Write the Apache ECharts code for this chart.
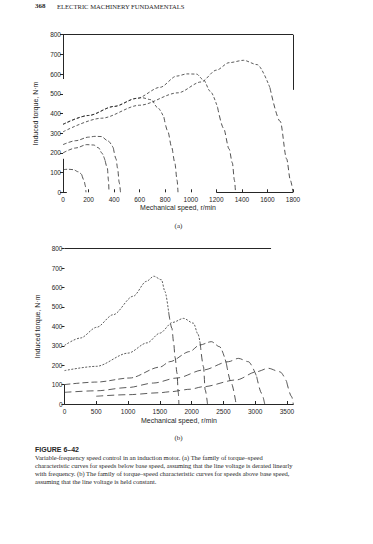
<!DOCTYPE html>
<html><head><meta charset="utf-8">
<script src="https://cdn.jsdelivr.net/npm/echarts@6/dist/echarts.min.js"></script>
<style>html,body{margin:0;padding:0;background:#fff}#c{width:373px;height:544px}</style>
</head><body><div id="c"></div>
<script>
// ---- tick labels ----
const speedTicksA = [0, 200, 400, 600, 800, 1000, 1200, 1400, 1600, 1800];
const speedTicksB = [0, 500, 1000, 1500, 2000, 2500, 3000, 3500];
const torqueTicks = [0, 100, 200, 300, 400, 500, 600, 700, 800];

// ---- (a) below base speed ----
const speedA1 = [0, 300, 600, 900, 1080, 1200, 1300, 1413, 1520, 1620, 1700, 1750, 1780, 1800];
const torqueA1 = [307, 376, 442, 505, 560, 620, 658, 670, 648, 530, 360, 170, 60, 0];
const speedA2 = [0, 200, 400, 577, 760, 890, 970, 1045, 1100, 1152, 1210, 1256, 1300, 1325, 1342, 1350];
const torqueA2 = [345, 390, 436, 477, 533, 590, 601, 600, 570, 513, 430, 326, 220, 150, 60, 0];
const speedA3 = [0, 200, 400, 577, 620, 690, 740, 790, 820, 850, 875, 893, 900];
const torqueA3 = [345, 390, 436, 477, 480, 470, 430, 380, 310, 230, 150, 60, 0];
const speedA4 = [0, 100, 200, 250, 300, 350, 394, 415, 427, 440, 450];
const torqueA4 = [242, 262, 280, 284, 283, 262, 225, 170, 123, 50, 0];
const speedA5 = [0, 100, 186, 240, 280, 303, 330, 347, 356, 360];
const torqueA5 = [200, 225, 242, 240, 225, 200, 160, 123, 60, 0];
const speedA6 = [0, 40, 81, 120, 147, 165, 174, 180];
const torqueA6 = [115, 117, 115, 104, 89, 60, 35, 0];

// ---- (b) above base speed ----
const speedB1 = [0, 250, 505, 766, 1080, 1290, 1405, 1526, 1580, 1640, 1690, 1716, 1740, 1770, 1790, 1800];
const torqueB1 = [302, 340, 395, 460, 555, 632, 658, 640, 580, 470, 390, 320, 240, 160, 60, 0];
const speedB2 = [0, 500, 1000, 1300, 1500, 1700, 1873, 2030, 2100, 2135, 2187, 2214, 2250];
const torqueB2 = [172, 194, 262, 315, 365, 420, 441, 416, 360, 313, 192, 72, 0];
const speedB3 = [0, 505, 1028, 1500, 1656, 1970, 2127, 2311, 2441, 2546, 2625, 2700];
const torqueB3 = [100, 113, 134, 190, 218, 270, 304, 321, 295, 210, 107, 0];
const speedB4 = [0, 500, 1000, 1400, 1770, 2179, 2579, 2736, 2893, 3024, 3102, 3150];
const torqueB4 = [60, 68, 85, 108, 134, 175, 218, 235, 218, 141, 55, 0];
const speedB5 = [500, 1000, 1500, 1656, 1978, 2179, 2703, 3021, 3205, 3390, 3495, 3574, 3600];
const torqueB5 = [40, 48, 58, 63, 76, 89, 124, 166, 184, 166, 115, 38, 0];

const INK = '#262626';
const SANS = '"Liberation Sans", Arial, sans-serif';
const SERIF = '"Liberation Serif", "Times New Roman", serif';

function pairs(s, t, from, to) {
  const out = [];
  for (let i = from; i <= to; i++) out.push([s[i], t[i]]);
  return out;
}
function curveSeries(s, t, gi, riseDash, fallDash) {
  let p = 0;
  for (let i = 1; i < t.length; i++) if (t[i] > t[p]) p = i;
  let k = p;
  while (k < t.length - 1 && t[k] >= 0.8 * t[p]) k++;
  const base = { type: 'line', xAxisIndex: gi, yAxisIndex: gi, symbol: 'none', smooth: 0.3,
    smoothMonotone: 'x', silent: true, animation: false };
  return [
    Object.assign({}, base, { data: pairs(s, t, 0, k),
      lineStyle: { color: INK, width: 0.75, type: riseDash } }),
    Object.assign({}, base, { data: pairs(s, t, k, t.length - 1),
      lineStyle: { color: INK, width: 0.8, type: fallDash } })
  ];
}
function seg(a, b) { return [{ coord: a }, { coord: b }]; }
function frame(gi, segs) {
  return { type: 'line', xAxisIndex: gi, yAxisIndex: gi, data: [], silent: true, animation: false,
    markLine: { symbol: ['none', 'none'], silent: true, animation: false, label: { show: false },
      lineStyle: { color: INK, width: 1, type: 'solid' }, data: segs } };
}

const series = [].concat(
  curveSeries(speedA1, torqueA1, 0, [3, 2], [5, 3]),
  curveSeries(speedA2, torqueA2, 0, [3, 2], [5, 3]),
  curveSeries(speedA3, torqueA3, 0, [3, 2], [5, 3]),
  curveSeries(speedA4, torqueA4, 0, [4, 2], [5, 3]),
  curveSeries(speedA5, torqueA5, 0, [4, 2], [5, 3]),
  curveSeries(speedA6, torqueA6, 0, [4, 2], [5, 3]),
  curveSeries(speedB1, torqueB1, 1, [2, 1.5], [7, 4]),
  curveSeries(speedB2, torqueB2, 1, [2, 1.5], [7, 4]),
  curveSeries(speedB3, torqueB3, 1, [6, 3], [7, 4]),
  curveSeries(speedB4, torqueB4, 1, [7, 4], [7, 4]),
  curveSeries(speedB5, torqueB5, 1, [7, 4], [7, 4]),
  [frame(0, [seg([0, 800], [1800, 800]), seg([1800, 800], [1800, 520]),
             seg([0, 800], [0, 575]), seg([0, 170], [0, 0]),
             seg([0, 0], [30, 0]), seg([1200, 0], [1800, 0])]),
   frame(1, [seg([0, 800], [3250, 800]), seg([0, 100], [0, 0])])]
);

const plain = v => String(v);
function xAxis(gi, max, interval, ticks) {
  return { gridIndex: gi, type: 'value', min: 0, max: max, interval: interval,
    axisLine: { show: gi === 1, lineStyle: { color: INK, width: 1 } },
    axisTick: { show: true, inside: true, length: 3, customValues: ticks, lineStyle: { color: INK } },
    axisLabel: { customValues: ticks, formatter: plain, fontSize: 6.5, margin: 4, color: INK, fontFamily: SANS },
    splitLine: { show: false },
    name: 'Mechanical speed, r/min', nameLocation: 'middle', nameGap: gi === 0 ? 12 : 13,
    nameTextStyle: { fontSize: 7, color: INK, fontFamily: SANS } };
}
function yAxis(gi) {
  return { gridIndex: gi, type: 'value', min: 0, max: 800, interval: 100,
    axisLine: { show: false },
    axisTick: { show: true, length: 3, customValues: torqueTicks, lineStyle: { color: INK } },
    axisLabel: { customValues: torqueTicks, formatter: plain, fontSize: 6.5, margin: 2, color: INK, fontFamily: SANS },
    splitLine: { show: false },
    name: 'Induced torque, N·m', nameLocation: 'middle', nameGap: 19,
    nameTextStyle: { fontSize: 7, color: INK, fontFamily: SANS } };
}
function txt(x, y, text, font, align) {
  return { type: 'text', x: x, y: y, silent: true,
    style: { text: text, font: font, fill: INK, align: align || 'left', verticalAlign: 'middle' } };
}

const chart = echarts.init(document.getElementById('c'), null, { renderer: 'svg', width: 373, height: 544 });
chart.setOption({
  animation: false,
  backgroundColor: '#fff',
  grid: [
    { left: 63, top: 34.7, width: 230, height: 157.6 },
    { left: 64.5, top: 248.7, width: 228.8, height: 155.3 }
  ],
  xAxis: [xAxis(0, 1800, 200, speedTicksA), xAxis(1, 3600, 500, speedTicksB)],
  yAxis: [yAxis(0), yAxis(1)],
  series: series,
  graphic: [
    txt(35, 6, '368', 'bold 7px ' + SERIF),
    txt(57, 6, 'ELECTRIC MACHINERY FUNDAMENTALS', '6.6px ' + SERIF),
    txt(178.5, 226, '(a)', '7px ' + SERIF, 'center'),
    txt(178.5, 438, '(b)', '7px ' + SERIF, 'center'),
    txt(35, 449.5, 'FIGURE 6–42', 'bold 7px ' + SANS),
    txt(35, 457.5, 'Variable-frequency speed control in an induction motor. (a) The family of torque–speed', '6.5px ' + SERIF),
    txt(35, 465.5, 'characteristic curves for speeds below base speed, assuming that the line voltage is derated linearly', '6.5px ' + SERIF),
    txt(35, 473.5, 'with frequency. (b) The family of torque–speed characteristic curves for speeds above base speed,', '6.5px ' + SERIF),
    txt(35, 481.5, 'assuming that the line voltage is held constant.', '6.5px ' + SERIF)
  ]
});
</script></body></html>
